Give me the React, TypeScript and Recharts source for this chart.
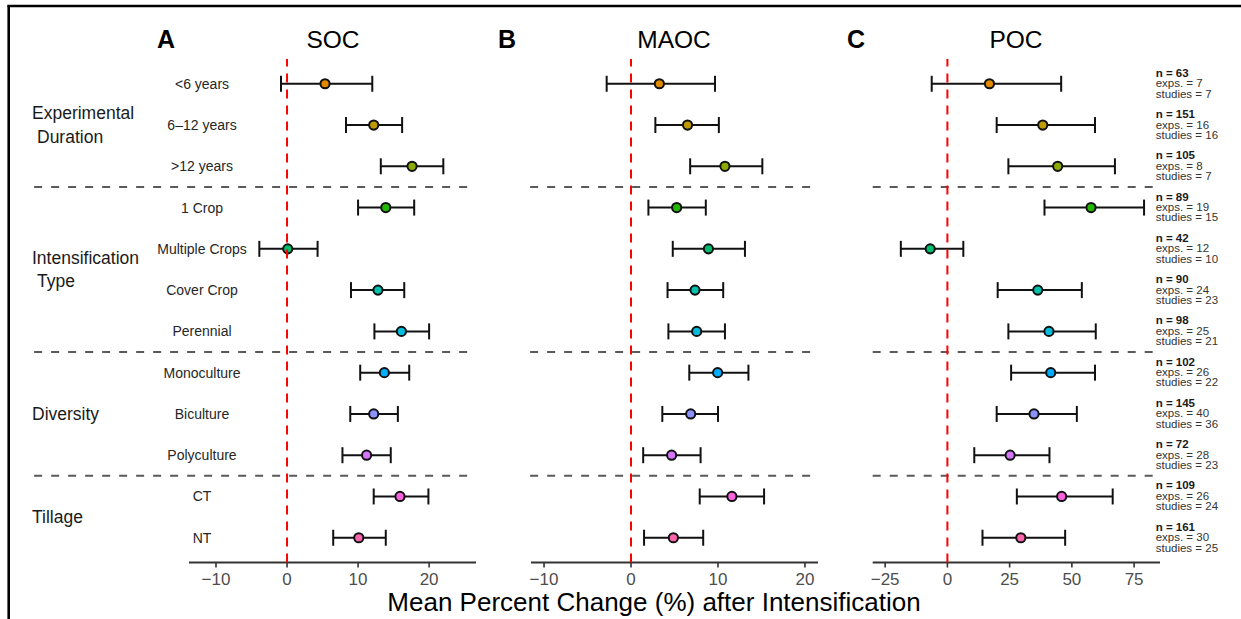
import React from 'react';
import { ScatterChart, Scatter, XAxis, YAxis, ErrorBar, ReferenceLine } from 'recharts';

const FONT = '"Liberation Sans", Arial, Helvetica, sans-serif';

// ---------- data ----------
const rowLabels = [
  '<6 years', '6\u201312 years', '>12 years',
  '1 Crop', 'Multiple Crops', 'Cover Crop', 'Perennial',
  'Monoculture', 'Biculture', 'Polyculture',
  'CT', 'NT',
];

const pointColors = [
  '#E18A00', '#BE9C00', '#8CAB00',
  '#24B700', '#00BE70', '#00C1AB', '#00BBDA',
  '#00ACFC', '#8B93FF', '#D575FE',
  '#F962DD', '#FF65AC',
];

const socMean = [5.35, 12.2, 17.6, 13.9, 0.1, 12.8, 16.1, 13.7, 12.2, 11.2, 15.9, 10.1];
const socLow = [-0.85, 8.3, 13.2, 10.0, -3.9, 9.0, 12.3, 10.3, 8.9, 7.8, 12.2, 6.5];
const socHigh = [12.0, 16.2, 22.0, 17.9, 4.3, 16.5, 20.0, 17.2, 15.6, 14.6, 19.9, 13.9];

const maocMean = [3.26, 6.5, 10.8, 5.25, 8.9, 7.36, 7.55, 9.96, 6.86, 4.67, 11.6, 4.87];
const maocLow = [-2.8, 2.8, 6.8, 2.0, 4.8, 4.2, 4.3, 6.7, 3.6, 1.4, 7.9, 1.5];
const maocHigh = [9.66, 10.1, 15.1, 8.6, 13.1, 10.6, 10.8, 13.5, 10.0, 8.0, 15.3, 8.3];

const pocMean = [16.9, 38.3, 44.3, 57.7, -6.9, 36.3, 40.8, 41.5, 34.8, 25.2, 45.9, 29.5];
const pocLow = [-6.3, 19.8, 24.5, 39.0, -18.7, 20.2, 24.5, 25.6, 19.8, 10.8, 27.9, 14.1];
const pocHigh = [45.7, 59.3, 67.3, 79.0, 6.4, 54.0, 59.6, 59.3, 52.0, 41.0, 66.4, 47.3];

const nObs = [63, 151, 105, 89, 42, 90, 98, 102, 145, 72, 109, 161];
const nExps = [7, 16, 8, 19, 12, 24, 25, 26, 40, 28, 26, 30];
const nStudies = [7, 16, 7, 15, 10, 23, 21, 22, 36, 23, 24, 25];

const groups = [
  { lines: ['Experimental', 'Duration'], from: 1, to: 3 },
  { lines: ['Intensification', 'Type'], from: 4, to: 7 },
  { lines: ['Diversity'], from: 8, to: 10 },
  { lines: ['Tillage'], from: 11, to: 12 },
];

const smallTicks = [-10, 0, 10, 20];
const pocTicks = [-25, 0, 25, 50, 75];
const rowTicks = rowLabels.map((_, i) => i + 1);
const separators = groups.slice(0, -1).map((g) => g.to + 0.5);

const buildData = (mean: number[], low: number[], high: number[]) =>
  mean.map((m, i) => ({
    row: i + 1,
    mean: m,
    err: [m - low[i], high[i] - m],
    color: pointColors[i],
  }));

// ---------- components ----------
const Dot = (props: any) => {
  const { cx, cy, payload } = props;
  if (cx == null || cy == null) return null;
  return <circle cx={cx} cy={cy} r={4.6} fill={payload.color} stroke="#111" strokeWidth={2} />;
};

const RowTick = (props: any) => {
  const { x, y, payload } = props;
  const label = rowLabels[payload.value - 1];
  return (
    <text x={x + 13} y={y + 5} textAnchor="middle" fontSize={14} fill="#262626" fontFamily={FONT}>
      {label}
    </text>
  );
};

const CountTick = (props: any) => {
  const { x, y, payload } = props;
  const i = payload.value - 1;
  const tx = x - 4.3;
  return (
    <g fontFamily={FONT} fontSize={11.5}>
      <text x={tx} y={y - 7} fontWeight="bold" fill="#1a1a1a">{`n = ${nObs[i]}`}</text>
      <text x={tx} y={y + 3.5} fill="#333">{`exps. = ${nExps[i]}`}</text>
      <text x={tx} y={y + 13.8} fill="#333">{`studies = ${nStudies[i]}`}</text>
    </g>
  );
};

const GroupLabel = (props: any) => {
  const { viewBox, lines } = props;
  if (!viewBox) return null;
  const x0 = viewBox.x - 157;
  const cy = viewBox.y;
  const n = lines.length;
  return (
    <g fontFamily={FONT} fontSize={17.5} fill="#1a1a1a">
      {lines.map((ln: string, i: number) => (
        <text key={ln} x={x0 + (i > 0 ? 5 : 0)} y={cy + 6 + (i - (n - 1) / 2) * 23.5}>
          {ln}
        </text>
      ))}
    </g>
  );
};

const fmtTick = (v: number) => String(v).replace('-', '\u2212');

type PanelProps = {
  data: any[];
  domain: [number, number];
  ticks: number[];
  sepFrom: number;
  sepTo: number;
  left: number;
  width: number;
  margin: { top: number; right: number; bottom: number; left: number };
  mode: 'labels' | 'none' | 'counts';
};

const Panel = ({ data, domain, ticks, sepFrom, sepTo, left, width, margin, mode }: PanelProps) => (
  <div style={{ position: 'absolute', left, top: 0 }}>
    <ScatterChart width={width} height={619} margin={margin}>
      <XAxis
        type="number"
        dataKey="mean"
        domain={domain}
        ticks={ticks}
        allowDataOverflow
        height={30}
        axisLine={{ stroke: '#333', strokeWidth: 2.2 }}
        tickLine={{ stroke: '#333', strokeWidth: 1.6 }}
        tickSize={5}
        tickMargin={5}
        tick={{ fontSize: 17, fill: '#4D4D4D', fontFamily: FONT }}
        tickFormatter={fmtTick}
      />
      {mode === 'labels' && (
        <YAxis
          type="number"
          dataKey="row"
          domain={[0.4, 12.6]}
          reversed
          ticks={rowTicks}
          allowDataOverflow
          width={150}
          axisLine={false}
          tickLine={false}
          tickSize={0}
          tickMargin={0}
          tick={<RowTick />}
          interval={0}
        />
      )}
      {mode === 'none' && (
        <YAxis type="number" dataKey="row" domain={[0.4, 12.6]} reversed allowDataOverflow hide />
      )}
      {mode === 'counts' && (
        <YAxis
          type="number"
          dataKey="row"
          orientation="right"
          domain={[0.4, 12.6]}
          reversed
          ticks={rowTicks}
          allowDataOverflow
          width={80}
          axisLine={false}
          tickLine={false}
          tickSize={0}
          tickMargin={0}
          tick={<CountTick />}
          interval={0}
        />
      )}
      {separators.map((s) => (
        <ReferenceLine
          key={`sep${s}`}
          segment={[{ x: sepFrom, y: s }, { x: sepTo, y: s }]}
          ifOverflow="visible"
          stroke="#5a5a5a"
          strokeWidth={2}
          strokeDasharray="8 9"
        />
      ))}
      {mode === 'labels' &&
        groups.map((g) => (
          <ReferenceLine
            key={`g${g.from}`}
            y={(g.from + g.to) / 2}
            ifOverflow="visible"
            stroke="none"
            label={(p: any) => <GroupLabel {...p} lines={g.lines} />}
          />
        ))}
      <Scatter data={data} shape={<Dot />} isAnimationActive={false}>
        <ErrorBar dataKey="err" direction="x" width={8} stroke="#111" strokeWidth={2} />
      </Scatter>
      <ReferenceLine x={0} stroke="#FF0000" strokeWidth={2} strokeDasharray="9 7" zIndex={2000} />
    </ScatterChart>
  </div>
);

export default function App() {
  return (
    <div style={{ position: 'absolute', left: 0, top: 0, width: 1241, height: 619, background: '#fff', overflow: 'hidden' }}>
      <svg width={1241} height={619} style={{ position: 'absolute', left: 0, top: 0 }}>
        <line x1={7.5} y1={6} x2={1241} y2={6} stroke="#000" strokeWidth={2.6} />
        <line x1={8.7} y1={5} x2={8.7} y2={619} stroke="#000" strokeWidth={2.6} />
        <g fontFamily={FONT} fill="#000">
          <text x={166} y={48} fontSize={25} fontWeight="bold" textAnchor="middle">A</text>
          <text x={333} y={48} fontSize={24.5} textAnchor="middle">SOC</text>
          <text x={507} y={48} fontSize={25} fontWeight="bold" textAnchor="middle">B</text>
          <text x={674} y={48} fontSize={24.5} textAnchor="middle">MAOC</text>
          <text x={856} y={48} fontSize={25} fontWeight="bold" textAnchor="middle">C</text>
          <text x={1016} y={48} fontSize={24.5} textAnchor="middle">POC</text>
          <text x={654} y={611} fontSize={26} textAnchor="middle">Mean Percent Change (%) after Intensification</text>
        </g>
      </svg>
      <Panel
        data={buildData(socMean, socLow, socHigh)}
        domain={[-13.8, 26.6]}
        ticks={smallTicks}
        sepFrom={-35.6}
        sepTo={26.2}
        left={0}
        width={490}
        margin={{ top: 59, right: 14, bottom: 26.5, left: 39 }}
        mode="labels"
      />
      <Panel
        data={buildData(maocMean, maocLow, maocHigh)}
        domain={[-11.5, 21.5]}
        ticks={smallTicks}
        sepFrom={-11.6}
        sepTo={20.9}
        left={490}
        width={360}
        margin={{ top: 59, right: 32, bottom: 26.5, left: 41 }}
        mode="none"
      />
      <Panel
        data={buildData(pocMean, pocLow, pocHigh)}
        domain={[-30, 85.4]}
        ticks={pocTicks}
        sepFrom={-30}
        sepTo={83.8}
        left={850}
        width={391}
        margin={{ top: 59, right: 1, bottom: 26.5, left: 22.7 }}
        mode="counts"
      />
    </div>
  );
}
